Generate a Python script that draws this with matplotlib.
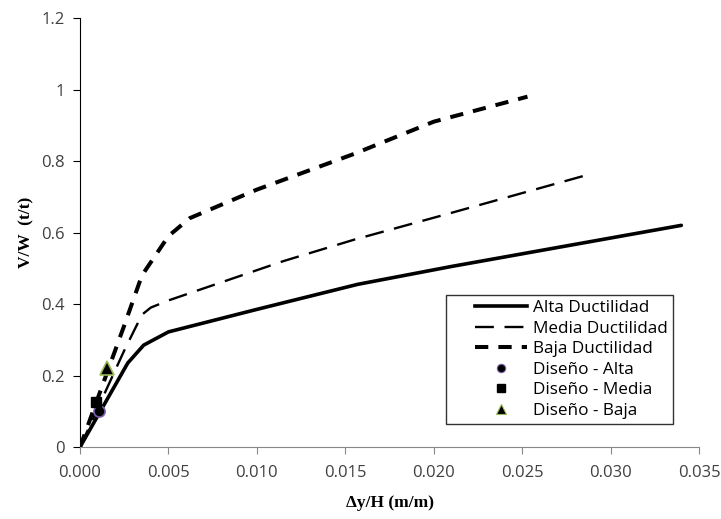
import matplotlib
matplotlib.use("Agg")
import matplotlib.pyplot as plt
from matplotlib.lines import Line2D
from matplotlib.legend_handler import HandlerLine2D

# Pushover curves (drift ratio vs base shear coefficient)
alta_x = [0.0, 0.0027, 0.0036, 0.0050, 0.0100, 0.0157, 0.0210, 0.0340]
alta_y = [0.0, 0.235, 0.285, 0.322, 0.385, 0.455, 0.505, 0.620]

media_x = [0.0, 0.0025, 0.0035, 0.0040, 0.0050, 0.0115, 0.0155, 0.0210, 0.0286]
media_y = [0.0, 0.270, 0.370, 0.390, 0.410, 0.520, 0.580, 0.655, 0.760]

baja_x = [0.0, 0.0025, 0.0035, 0.0050, 0.0062, 0.0100, 0.0155, 0.0200, 0.0253]
baja_y = [0.0, 0.340, 0.480, 0.590, 0.640, 0.720, 0.820, 0.910, 0.980]

# Design points
dis_alta = (0.0011, 0.100)
dis_media = (0.0009, 0.125)
dis_baja = (0.0015, 0.222)

xticks = [0.000, 0.005, 0.010, 0.015, 0.020, 0.025, 0.030, 0.035]
yticks = [0, 0.2, 0.4, 0.6, 0.8, 1.0, 1.2]
xticklabels = ["0.000", "0.005", "0.010", "0.015", "0.020", "0.025", "0.030", "0.035"]
yticklabels = ["0", "0.2", "0.4", "0.6", "0.8", "1", "1.2"]

ALTA_EDGE = "#7a5ea8"
BAJA_EDGE = "#9bbb59"
MEDIA_DASH = (8, 4.5)
BAJA_DASH = (3.3, 2.5)

fig = plt.figure(figsize=(7.21, 5.19), dpi=100)
ax = fig.add_axes([0.111, 0.1387, 0.8585, 0.8266])

ax.plot(alta_x, alta_y, color="black", lw=2.6, solid_capstyle="round")
ax.plot(media_x, media_y, color="black", lw=1.7, dashes=MEDIA_DASH)
ax.plot(baja_x, baja_y, color="black", lw=2.9, dashes=BAJA_DASH)

ax.plot(*dis_alta, marker="o", ls="none", ms=8, mfc="black", mec=ALTA_EDGE,
        mew=1.2)
ax.plot(*dis_media, marker="s", ls="none", ms=7.5, mfc="black", mec="black")
ax.plot(*dis_baja, marker="^", ls="none", ms=10, mfc="black", mec=BAJA_EDGE,
        mew=1.2)

ax.set_xlim(0, 0.035)
ax.set_ylim(0, 1.2)
ax.set_xticks(xticks)
ax.set_xticklabels(xticklabels)
ax.set_yticks(yticks)
ax.set_yticklabels(yticklabels)

for lbl in ax.get_xticklabels() + ax.get_yticklabels():
    lbl.set_fontfamily("Open Sans")
    lbl.set_fontsize(12)
    lbl.set_color("#404040")

ax.spines["top"].set_visible(False)
ax.spines["right"].set_visible(False)
ax.spines["left"].set_color("black")
ax.spines["bottom"].set_color("#888888")
ax.tick_params(axis="y", direction="out", length=5, color="black", pad=6)
ax.tick_params(axis="x", direction="out", length=5, color="#888888", pad=8)

ax.set_xlabel("Δy/H (m/m)", family="Liberation Serif", fontweight="bold",
              fontsize=12.5, labelpad=10)
ax.set_ylabel("V/W  (t/t)", family="Liberation Serif", fontweight="bold",
              fontsize=12.5, labelpad=5)

handles = [
    Line2D([], [], color="black", lw=2.6),
    Line2D([], [], color="black", lw=1.7, dashes=MEDIA_DASH),
    Line2D([], [], color="black", lw=2.9, dashes=BAJA_DASH),
    Line2D([], [], marker="o", ls="none", ms=6, mfc="black", mec=ALTA_EDGE, mew=0.8),
    Line2D([], [], marker="s", ls="none", ms=5.5, mfc="black", mec="black"),
    Line2D([], [], marker="^", ls="none", ms=6.5, mfc="black", mec=BAJA_EDGE, mew=0.8),
]
labels = ["Alta Ductilidad", "Media Ductilidad", "Baja Ductilidad",
          "Diseño - Alta", "Diseño - Media", "Diseño - Baja"]
leg = ax.legend(handles, labels, loc="lower right", bbox_to_anchor=(0.958, 0.054),
                prop={"family": "Open Sans", "size": 12.3},
                frameon=True, fancybox=False, edgecolor="black",
                handlelength=4.5, handletextpad=0.35, borderpad=0.28,
                borderaxespad=0, labelspacing=0.27,
                handler_map={Line2D: HandlerLine2D(xpad=1.45)})
leg.get_frame().set_linewidth(1.0)

fig.savefig("out.png", dpi=100)
